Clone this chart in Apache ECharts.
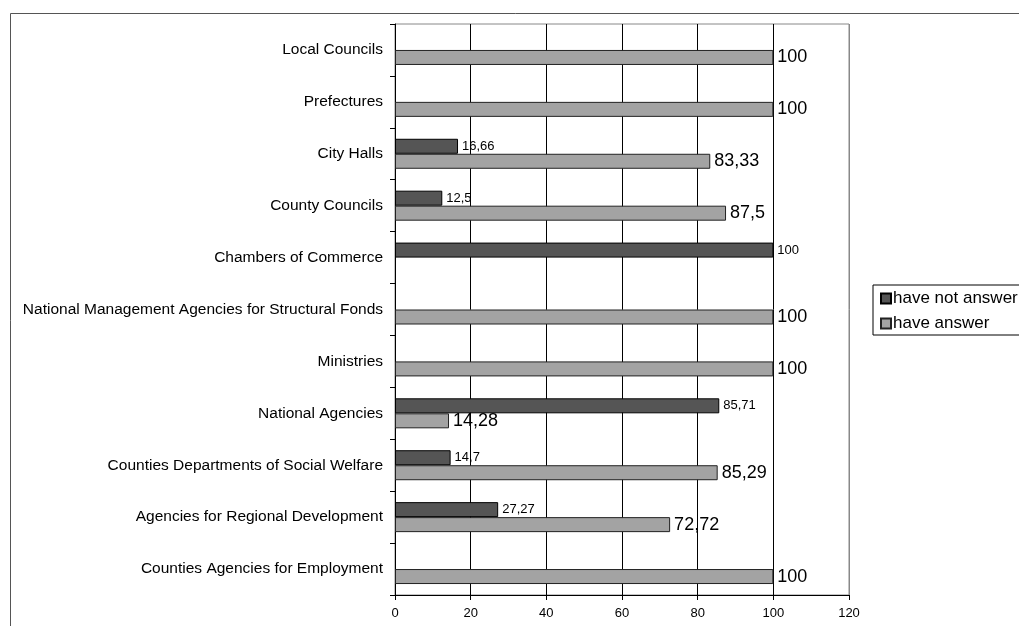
<!DOCTYPE html>
<html>
<head>
<meta charset="utf-8">
<script src="https://cdn.jsdelivr.net/npm/echarts@6/dist/echarts.min.js"></script>
<style>
  html, body { margin: 0; padding: 0; background: #fff; }
  #chart { width: 1019px; height: 626px; }
</style>
</head>
<body>
<div id="chart"></div>
<script>
// Institutions, listed bottom to top along the category axis
const categories = [
  'Counties Agencies for Employment',
  'Agencies for Regional Development',
  'Counties Departments of Social Welfare',
  'National Agencies',
  'Ministries',
  'National Management Agencies for Structural Fonds',
  'Chambers of Commerce',
  'County Councils',
  'City Halls',
  'Prefectures',
  'Local Councils'
];

// Share (%) of institutions that did not answer / did answer
const haveNotAnswer = [null, 27.27, 14.7, 85.71, null, null, 100, 12.5, 16.66, null, null];
const haveAnswer    = [100, 72.72, 85.29, 14.28, 100, 100, null, 87.5, 83.33, 100, 100];

const xTicks = [0, 20, 40, 60, 80, 100, 120];

const FONT = '"Liberation Sans", Arial, sans-serif';
const commaDecimal = p => String(p.value).replace('.', ',');

const chart = echarts.init(document.getElementById('chart'), null, { renderer: 'canvas' });

chart.setOption({
  animation: false,
  backgroundColor: '#fff',
  textStyle: { fontFamily: FONT },
  graphic: [{
    type: 'rect',
    silent: true,
    shape: { x: 10.5, y: 13.5, width: 1200, height: 800 },
    style: { fill: 'none', stroke: '#555', lineWidth: 1 }
  }],
  grid: {
    left: 395, right: 170, top: 24, bottom: 31,
    show: true, borderColor: '#888', borderWidth: 1, backgroundColor: 'transparent'
  },
  legend: {
    orient: 'vertical',
    left: 873, top: 285,
    padding: [5, 40, 3, 7],
    itemGap: 8,
    itemWidth: 10, itemHeight: 10,
    icon: 'rect',
    borderColor: '#000', borderWidth: 1,
    textStyle: { fontFamily: FONT, fontSize: 17, color: '#000', padding: [0, 0, 0, -3] },
    data: ['have not answer', 'have answer']
  },
  xAxis: {
    type: 'value',
    min: xTicks[0], max: xTicks[xTicks.length - 1], interval: 20,
    axisLine: { show: true, lineStyle: { color: '#000', width: 1 } },
    axisTick: { show: true, length: 5, lineStyle: { color: '#000' } },
    axisLabel: { fontFamily: FONT, fontSize: 13, color: '#000', margin: 12 },
    splitLine: {
      show: true,
      lineStyle: { color: ['#000', '#000', '#000', '#000', '#000', '#000', '#888'], width: 1 }
    }
  },
  yAxis: {
    type: 'category',
    data: categories,
    axisLine: { show: true, lineStyle: { color: '#000', width: 1 } },
    axisTick: { show: true, length: 5, lineStyle: { color: '#000' } },
    axisLabel: { fontFamily: FONT, fontSize: 15.5, color: '#000', margin: 12 }
  },
  series: [
    {
      name: 'have not answer',
      type: 'bar',
      data: haveNotAnswer,
      barWidth: 15,
      barGap: '0%',
      itemStyle: { color: '#555555', borderColor: '#000', borderWidth: 1 },
      label: {
        show: true, position: 'right', distance: 4,
        fontFamily: FONT, fontSize: 13, color: '#000',
        formatter: commaDecimal
      }
    },
    {
      name: 'have answer',
      type: 'bar',
      data: haveAnswer,
      barWidth: 15,
      barGap: '0%',
      itemStyle: { color: '#a3a3a3', borderColor: '#222', borderWidth: 1 },
      label: {
        show: true, position: 'right', distance: 4,
        fontFamily: FONT, fontSize: 18, color: '#000',
        formatter: commaDecimal
      }
    }
  ]
});
</script>
</body>
</html>
